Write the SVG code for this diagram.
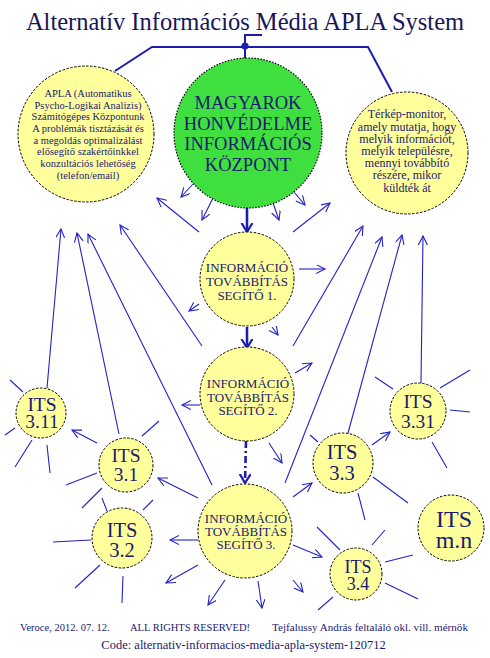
<svg xmlns="http://www.w3.org/2000/svg" width="490" height="658" viewBox="0 0 490 658">
<style>
text{font-family:"Liberation Serif","Times New Roman",serif;fill:#1a1a6e;text-anchor:middle}
.y{fill:#ffff9c;stroke:#000;stroke-width:1;stroke-dasharray:2.5,1.5}
.g{fill:#3fdf3f;stroke:#000;stroke-width:1.2;stroke-dasharray:1.5,1.5}
.l{stroke:#2222c8;stroke-width:1.1;fill:none}
.la{stroke:#2222c8;stroke-width:1.1;fill:none;marker-end:url(#a)}
.t{stroke:#1c1cb0;stroke-width:2.6;fill:none;marker-end:url(#at)}
.top{stroke:#1c1cb0;stroke-width:2;fill:none}
.s{font-size:10.5px}
.r{font-size:12px}
.m{font-size:18.5px}
.i{font-size:13px}
.n{font-size:19.5px}
</style>
<defs>
<marker id="a" markerUnits="userSpaceOnUse" markerWidth="12" markerHeight="12" refX="9" refY="4.5" orient="auto">
<path d="M0,0 L9,4.5 L0,9" fill="none" stroke="#2222c8" stroke-width="1.1"/>
</marker>
<marker id="at" markerUnits="userSpaceOnUse" markerWidth="14" markerHeight="14" refX="9" refY="6" orient="auto">
<path d="M0,0.5 L9,6 L0,11.5" fill="none" stroke="#1c1cb0" stroke-width="2.2"/>
</marker>
</defs>
<rect width="490" height="658" fill="#fff"/>
<text x="245" y="30" style="font-size:24.5px;fill:#16165a">Alternatív Információs Média APLA System</text>

<g id="connectors">
<polyline class="top" points="115,71 152,47 368,47 392,92"/>
<polyline class="top" points="245,58 245,35 262,35"/>
<circle cx="245" cy="46" r="3.6" fill="#1c1cb0"/>
<line class="la" x1="193" y1="184" x2="181" y2="197"/>
<line class="la" x1="213" y1="198" x2="202" y2="220"/>
<line class="la" x1="273" y1="203" x2="279" y2="220"/>
<line class="la" x1="293" y1="191" x2="305" y2="205"/>
<line class="la" x1="199" y1="232" x2="157" y2="198"/>
<line class="la" x1="293" y1="232" x2="330" y2="203"/>
<line class="la" x1="299" y1="269" x2="325" y2="269"/>
<line class="la" x1="199" y1="304" x2="189" y2="311"/>
<line class="la" x1="272" y1="327" x2="278" y2="335"/>
<line class="la" x1="47" y1="388" x2="61" y2="229"/>
<line class="la" x1="119" y1="434" x2="77" y2="233"/>
<line class="la" x1="212" y1="485" x2="88" y2="234"/>
<line class="la" x1="202" y1="346" x2="120" y2="225"/>
<line class="la" x1="293" y1="346" x2="363" y2="226"/>
<line class="la" x1="285" y1="483" x2="382" y2="237"/>
<line class="la" x1="348" y1="433" x2="402" y2="235"/>
<line class="la" x1="421" y1="383" x2="423" y2="236"/>
<line class="la" x1="200" y1="405" x2="182" y2="405"/>
<line class="la" x1="295" y1="373" x2="312" y2="363"/>
<line class="la" x1="269" y1="443" x2="282" y2="463"/>
<line class="la" x1="198" y1="540" x2="170" y2="540"/>
<line class="la" x1="198" y1="498" x2="158" y2="478"/>
<line class="la" x1="198" y1="565" x2="166" y2="583"/>
<line class="la" x1="225" y1="580" x2="208" y2="605"/>
<line class="la" x1="258" y1="581" x2="262" y2="608"/>
<line class="la" x1="293" y1="580" x2="303" y2="592"/>
<line class="la" x1="293" y1="545" x2="322" y2="557"/>
<line class="la" x1="293" y1="497" x2="312" y2="483"/>
<line class="la" x1="372" y1="445" x2="390" y2="432"/>
<line class="la" x1="97" y1="443" x2="72" y2="430"/>
<line class="t" x1="247" y1="207" x2="247" y2="232"/>
<line class="t" x1="247" y1="327" x2="247" y2="348"/>
<line class="t" x1="246" y1="441" x2="245" y2="483" stroke-dasharray="7,3,2,3"/>
<path class="l" d="M10,380L23,392M15,428L5,435M32,440L15,467M47,445L50,473"/>
<path class="l" d="M142,436L159,421M97,473L66,485M102,488L82,508M102,498L107,511"/>
<path class="l" d="M143,510L153,500M91,540L53,542M100,565L75,588M123,576L122,603"/>
<path class="l" d="M375,377L393,389M440,388L470,370M450,410L470,412M432,442L447,468"/>
<path class="l" d="M310,435L318,442M373,477L408,503M358,493L365,520"/>
<path class="l" d="M317,527L340,550M372,545L385,530M385,562L413,555M385,583L418,599M333,597L318,610"/>
</g>

<g id="apla">
<circle class="y" cx="86" cy="134" r="68"/>
<text class="s" x="88" y="97">APLA (Automatikus</text>
<text class="s" x="88" y="108.5">Psycho-Logikai Analizis)</text>
<text class="s" x="88" y="120">Számitógépes Központunk</text>
<text class="s" x="88" y="132">A problémák tisztázását és</text>
<text class="s" x="88" y="143.5">a megoldás optimalizálást</text>
<text class="s" x="88" y="155">elősegítő szakértőinkkel</text>
<text class="s" x="88" y="167">konzultációs lehetőség</text>
<text class="s" x="88" y="179">(telefon/email)</text>
</g>

<g id="kozpont">
<ellipse class="g" cx="248" cy="133" rx="74" ry="75"/>
<text class="m" x="248" y="109">MAGYAROK</text>
<text class="m" x="248" y="129.5">HONVÉDELME</text>
<text class="m" x="248" y="150">INFORMÁCIÓS</text>
<text class="m" x="248" y="170.5">KÖZPONT</text>
</g>

<g id="terkep">
<circle class="y" cx="407" cy="153" r="61"/>
<text class="r" x="407" y="118">Térkép-monitor,</text>
<text class="r" x="407" y="130.5">amely mutatja, hogy</text>
<text class="r" x="407" y="142.5">melyik információt,</text>
<text class="r" x="407" y="154.5">melyik településre,</text>
<text class="r" x="407" y="167">mennyi továbbító</text>
<text class="r" x="407" y="179">részére, mikor</text>
<text class="r" x="407" y="191.5">küldték át</text>
</g>

<g id="its1">
<circle class="y" cx="247" cy="279" r="47"/>
<text class="i" x="247" y="272">INFORMÁCIÓ</text>
<text class="i" x="247" y="286">TOVÁBBÍTÁS</text>
<text class="i" x="247" y="300">SEGÍTŐ 1.</text>
</g>

<g id="its2">
<circle class="y" cx="247" cy="394" r="47"/>
<text class="i" x="248" y="388">INFORMÁCIÓ</text>
<text class="i" x="248" y="401.5">TOVÁBBÍTÁS</text>
<text class="i" x="248" y="415">SEGÍTŐ 2.</text>
</g>

<g id="its3">
<circle class="y" cx="245" cy="531" r="47"/>
<text class="i" x="246" y="523">INFORMÁCIÓ</text>
<text class="i" x="246" y="536">TOVÁBBÍTÁS</text>
<text class="i" x="246" y="548.5">SEGÍTŐ 3.</text>
</g>

<g id="its311">
<circle class="y" cx="41" cy="413" r="25"/>
<text class="n" x="42" y="411">ITS</text>
<text class="n" x="42" y="428">3.11</text>
</g>

<g id="its31">
<circle class="y" cx="126" cy="465" r="27"/>
<text class="n" x="126" y="462">ITS</text>
<text class="n" x="126" y="481">3.1</text>
</g>

<g id="its32">
<circle class="y" cx="122" cy="538" r="30"/>
<text class="n" x="122" y="537" style="font-size:20.5px">ITS</text>
<text class="n" x="122" y="557" style="font-size:20.5px">3.2</text>
</g>

<g id="its331">
<circle class="y" cx="418" cy="411" r="28"/>
<text class="n" x="418" y="408">ITS</text>
<text class="n" x="418" y="428">3.31</text>
</g>

<g id="its33">
<circle class="y" cx="343" cy="463" r="30"/>
<text class="n" x="342" y="459" style="font-size:20.5px">ITS</text>
<text class="n" x="342" y="480" style="font-size:20.5px">3.3</text>
</g>

<g id="itsmn">
<circle class="y" cx="451" cy="528" r="33"/>
<text x="454" y="527" style="font-size:24px">ITS</text>
<text x="454" y="548" style="font-size:24px">m.n</text>
</g>

<g id="its34">
<circle class="y" cx="356" cy="574" r="26"/>
<text x="358" y="573" style="font-size:18px">ITS</text>
<text x="358" y="590" style="font-size:18px">3.4</text>
</g>

<g id="footer">
<text x="20" y="631" style="font-size:10.5px;text-anchor:start">Veroce, 2012. 07. 12.</text>
<text x="130" y="631" style="font-size:10.5px;text-anchor:start">ALL RIGHTS RESERVED!</text>
<text x="272" y="631" style="font-size:10.5px;text-anchor:start" textLength="196" lengthAdjust="spacingAndGlyphs">Tejfalussy András feltaláló okl. vill. mérnök</text>
<text x="243.5" y="649" style="font-size:12.5px">Code: alternativ-informacios-media-apla-system-120712</text>
</g>
</svg>
